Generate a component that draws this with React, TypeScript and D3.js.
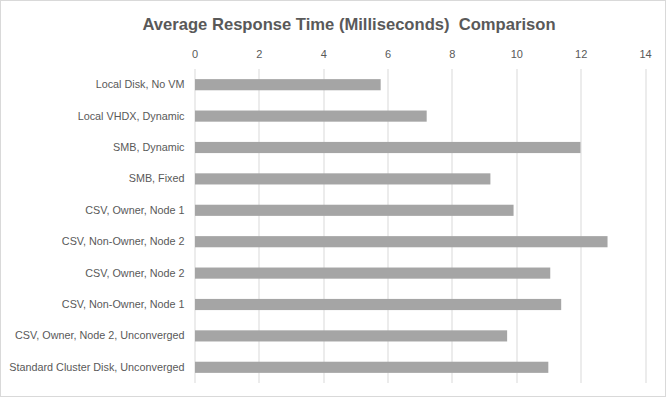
import * as d3 from 'd3';
import React, { useEffect, useRef } from 'react';

const categories = [
  'Local Disk, No VM',
  'Local VHDX, Dynamic',
  'SMB, Dynamic',
  'SMB, Fixed',
  'CSV, Owner, Node 1',
  'CSV, Non-Owner, Node 2',
  'CSV, Owner, Node 2',
  'CSV, Non-Owner, Node 1',
  'CSV, Owner, Node 2, Unconverged',
  'Standard Cluster Disk, Unconverged',
];
const responseMs = [5.77, 7.2, 11.98, 9.18, 9.9, 12.82, 11.04, 11.38, 9.7, 10.98];
const xTicks = [0, 2, 4, 6, 8, 10, 12, 14];

const W = 666;
const H = 398;

const App = () => {
  const ref = useRef<SVGSVGElement | null>(null);

  useEffect(() => {
    if (!ref.current) return;
    const svg = d3.select(ref.current);
    svg.selectAll('*').remove();

    const margin = { top: 69, right: 21, bottom: 15, left: 194.5 };
    const innerW = W - margin.left - margin.right;
    const innerH = H - margin.top - margin.bottom;
    const font = '"Liberation Sans", Arial, sans-serif';
    const textColor = '#595959';

    svg.append('rect').attr('x', 0.5).attr('y', 0.5).attr('width', W - 1).attr('height', H - 2)
      .attr('fill', '#fff').attr('stroke', '#d9d9d9');

    svg.append('text').attr('x', 349).attr('y', 30).attr('text-anchor', 'middle')
      .style('font-family', font).style('font-size', '16.6px').style('font-weight', 'bold')
      .style('fill', textColor).attr('xml:space', 'preserve')
      .text('Average Response Time (Milliseconds)  Comparison');

    const g = svg.append('g').attr('transform', `translate(${margin.left},${margin.top})`);

    const x = d3.scaleLinear().domain([0, 14]).range([0, innerW]);
    const y = d3.scaleBand().domain(categories).range([0, innerH]).paddingInner(0.645).paddingOuter(0.3225);

    // vertical gridlines
    xTicks.forEach((t) => {
      g.append('line').attr('x1', Math.round(x(t)) + 0.5).attr('x2', Math.round(x(t)) + 0.5)
        .attr('y1', 0).attr('y2', innerH).attr('stroke', '#d9d9d9');
    });

    const xAxis = g.append('g').attr('transform', 'translate(0,-11)')
      .call(d3.axisTop(x).tickValues(xTicks).tickSize(0).tickPadding(0));
    xAxis.select('.domain').remove();
    xAxis.selectAll('text').style('fill', textColor).style('font-size', '11px').style('font-family', font);

    const yAxis = g.append('g').call(d3.axisLeft(y).tickSize(0).tickPadding(10));
    yAxis.select('.domain').remove();
    yAxis.selectAll('text').style('fill', textColor).style('font-size', '10.8px').style('font-family', font);

    g.selectAll('.bar')
      .data(categories)
      .enter()
      .append('rect')
      .attr('class', 'bar')
      .attr('x', 0.5)
      .attr('y', (d) => y(d))
      .attr('width', (d, i) => x(responseMs[i]))
      .attr('height', y.bandwidth())
      .attr('fill', '#a5a5a5');
  }, []);

  return <svg ref={ref} width={W} height={H} style={{ position: 'absolute', left: 0, top: 0 }} />;
};

export default App;
